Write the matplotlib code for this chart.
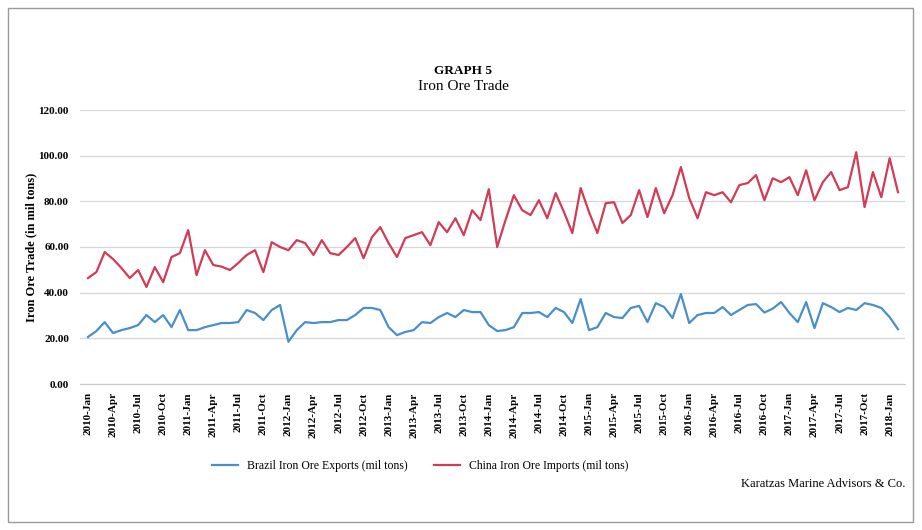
import matplotlib
matplotlib.use("Agg")
import matplotlib.pyplot as plt
from matplotlib.patches import Rectangle

months = ["Jan", "Feb", "Mar", "Apr", "May", "Jun", "Jul", "Aug", "Sep", "Oct", "Nov", "Dec"]
categories = [f"{2010 + i // 12}-{months[i % 12]}" for i in range(98)]

china_imports = [
    46.4, 49.0, 57.8, 54.7, 50.8, 46.4, 49.9, 42.5, 51.2, 44.6,
    55.6, 57.3, 67.4, 47.7, 58.6, 52.1, 51.4, 49.9, 53.0, 56.5,
    58.6, 49.0, 62.1, 60.0, 58.6, 63.0, 61.7, 56.5, 63.0, 57.3,
    56.5, 60.0, 63.9, 55.1, 64.3, 68.7, 61.7, 55.6, 63.9, 65.2,
    66.5, 60.8, 70.9, 66.5, 72.6, 65.2, 76.1, 71.8, 85.3, 60.0,
    71.8, 82.7, 76.1, 74.0, 80.5, 72.6, 83.6, 75.3, 66.1, 85.8,
    75.3, 66.1, 79.2, 79.6, 70.5, 74.0, 84.9, 73.1, 85.8, 74.8,
    82.7, 95.0, 81.4, 72.6, 84.0, 82.7, 84.0, 79.6, 87.1, 88.0,
    91.5, 80.5, 90.1, 88.4, 90.6, 82.7, 93.6, 80.5, 88.4, 92.8,
    84.9, 86.2, 101.5, 77.5, 92.8, 81.8, 98.9, 84.0,
]

brazil_exports = [
    20.6, 23.2, 27.1, 22.3, 23.6, 24.5, 25.8, 30.2, 27.1, 30.2,
    24.9, 32.4, 23.6, 23.6, 24.9, 25.8, 26.7, 26.7, 27.1, 32.4,
    31.1, 28.0, 32.4, 34.6, 18.5, 23.6, 27.1, 26.7, 27.1, 27.1,
    28.0, 28.0, 30.2, 33.3, 33.3, 32.4, 24.9, 21.4, 22.8, 23.6,
    27.1, 26.7, 29.3, 31.1, 29.3, 32.4, 31.5, 31.5, 25.8, 23.2,
    23.6, 24.9, 31.1, 31.1, 31.5, 29.3, 33.3, 31.5, 26.7, 37.2,
    23.6, 24.9, 31.1, 29.3, 28.9, 33.3, 34.2, 27.1, 35.4, 33.7,
    28.9, 39.4, 26.7, 30.2, 31.1, 31.1, 33.7, 30.2, 32.4, 34.6,
    35.0, 31.3, 33.0, 35.9, 31.1, 27.1, 35.9, 24.5, 35.4, 33.7,
    31.5, 33.3, 32.4, 35.4, 34.6, 33.3, 29.3, 24.0,
]

yticks = [0, 20, 40, 60, 80, 100, 120]

plt.rcParams["font.family"] = ["Liberation Serif", "DejaVu Serif"]

fig = plt.figure(figsize=(9.22, 5.30), dpi=100)
fig.patch.set_facecolor("white")
fig.patches.append(Rectangle((8 / 922, 8 / 530), 905 / 922, 514 / 530,
                             transform=fig.transFigure, fill=False,
                             edgecolor="#9a9a9a", linewidth=1.0))

ax = fig.add_axes([80 / 922, 1 - 384 / 530, 825 / 922, 274 / 530])
x = list(range(len(categories)))
ax.plot(x, brazil_exports, color="#4a8fc9", linewidth=1.6,
        label="Brazil Iron Ore Exports (mil tons)")
ax.plot(x, china_imports, color="#d23b55", linewidth=1.6,
        label="China Iron Ore Imports (mil tons)")

ax.set_ylim(0, 120)
ax.set_xlim(-0.96, 97.84)
ax.set_yticks(yticks)
ax.set_yticklabels([f"{v:.2f}" for v in yticks], fontsize=8, fontweight="bold")
ax.set_xticks(x[::3])
ax.set_xticklabels(categories[::3], rotation=90, fontsize=8, fontweight="bold")
ax.tick_params(axis="y", length=0, pad=8)
ax.tick_params(axis="x", length=0, pad=6)
ax.grid(axis="y", color="#d6d6d6", linewidth=0.9)
ax.set_axisbelow(True)
for s in ["top", "right", "left"]:
    ax.spines[s].set_visible(False)
ax.spines["bottom"].set_color("#c8c8c8")
ax.set_ylabel("Iron Ore Trade (in mil tons)", fontsize=9, fontweight="bold")
ax.yaxis.set_label_coords((37 - 80) / 825, 0.5)

fig.text(463 / 922, 1 - 71 / 530, "GRAPH 5", ha="center", va="center",
         fontsize=9.5, fontweight="bold")
fig.text(463 / 922, 1 - 87 / 530, "Iron Ore Trade", ha="center", va="center",
         fontsize=11)

fig.legend(loc="center", bbox_to_anchor=(420 / 922, 1 - 466 / 530), ncol=2,
           frameon=False, fontsize=8.5, handlelength=2.2, columnspacing=2.2)
fig.text(905 / 922, 1 - 484 / 530, "Karatzas Marine Advisors & Co.",
         ha="right", va="center", fontsize=9)

fig.savefig("out.png", dpi=100, facecolor="white")
